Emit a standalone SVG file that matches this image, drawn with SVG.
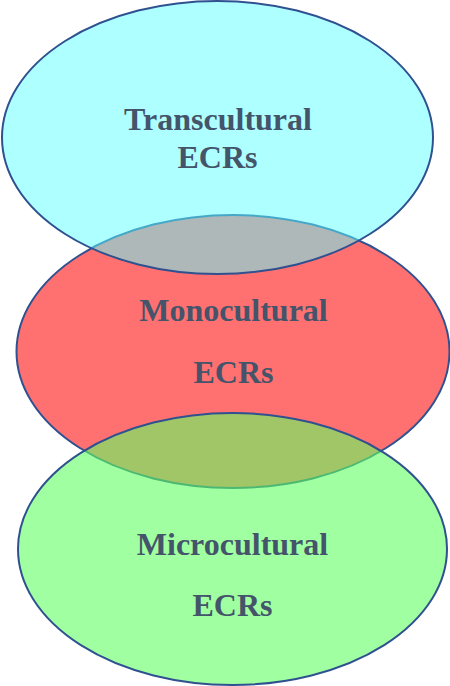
<svg xmlns="http://www.w3.org/2000/svg" width="450" height="686" viewBox="0 0 450 686">
<style>
.e{stroke:#2f5190;stroke-width:2}
.t{font-family:"Liberation Serif","Times New Roman",serif;font-weight:bold;font-size:32px;fill:#44546a;text-anchor:middle}
</style>
<rect width="450" height="686" fill="#ffffff"/>
<g id="connectors"></g>
<g id="monocultural">
<ellipse class="e" cx="233" cy="351.5" rx="216.5" ry="136.5" fill="#ff7070"/>
<text class="t" x="233.5" y="321">Monocultural</text>
<text class="t" x="233.5" y="383">ECRs</text>
</g>
<g id="microcultural">
<ellipse class="e" cx="232.5" cy="549" rx="214.5" ry="136" fill="#61ff61" fill-opacity="0.6"/>
<text class="t" x="232.5" y="554.5">Microcultural</text>
<text class="t" x="232.5" y="616">ECRs</text>
</g>
<g id="transcultural">
<ellipse class="e" cx="217.5" cy="137.5" rx="215.5" ry="136.5" fill="#5dffff" fill-opacity="0.5"/>
<text class="t" x="218" y="129.5">Transcultural</text>
<text class="t" x="217.5" y="167.5">ECRs</text>
</g>
</svg>
